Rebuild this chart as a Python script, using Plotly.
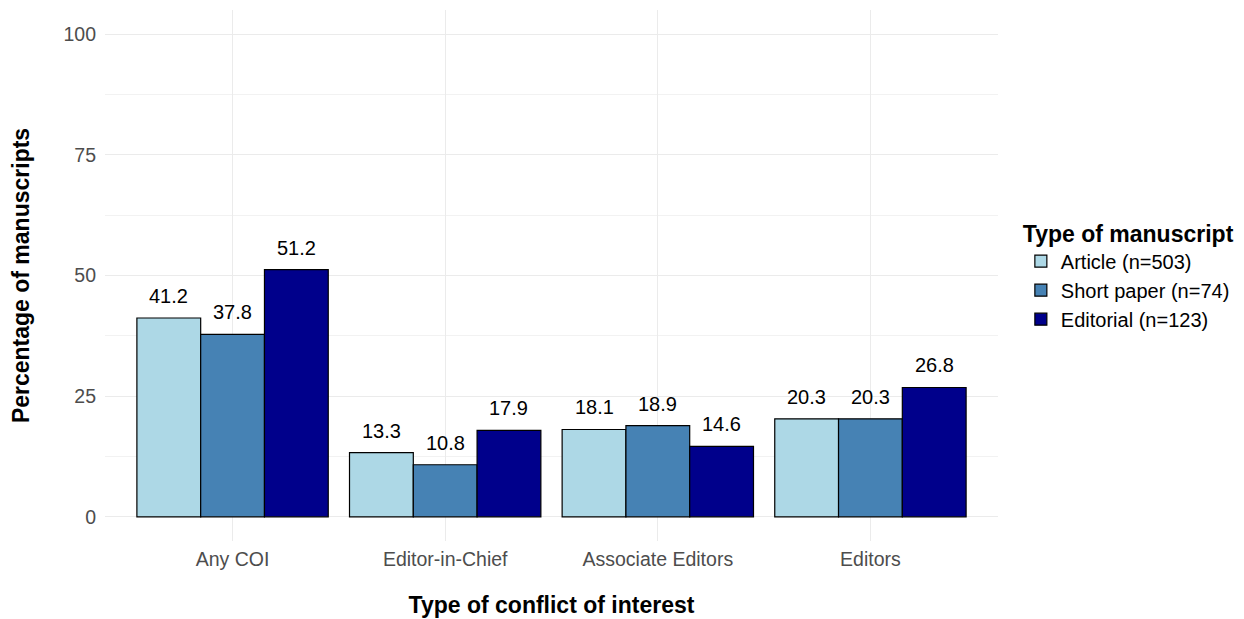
import plotly.graph_objects as go

categories = ["Any COI", "Editor-in-Chief", "Associate Editors", "Editors"]
series_names = ["Article (n=503)", "Short paper (n=74)", "Editorial (n=123)"]
article = [41.2, 13.3, 18.1, 20.3]
short_paper = [37.8, 10.8, 18.9, 20.3]
editorial = [51.2, 17.9, 14.6, 26.8]
y_ticks = [0, 25, 50, 75, 100]

series = [article, short_paper, editorial]
colors = ["#ADD8E6", "#4682B4", "#00008B"]
offsets = [-0.3, 0.0, 0.3]
FONT = "Liberation Sans, Arial, sans-serif"

fig = go.Figure()
idx = list(range(len(categories)))
for name, vals, col, off in zip(series_names, series, colors, offsets):
    xs = [i + off for i in idx]
    fig.add_trace(go.Bar(
        x=xs, y=vals, width=0.3, name=name,
        marker=dict(color=col, line=dict(color="black", width=1.2)),
    ))
    for x, v in zip(xs, vals):
        fig.add_annotation(x=x, y=v, text=f"{v:.1f}", showarrow=False,
                           yanchor="bottom", yshift=9,
                           font=dict(family=FONT, size=20, color="black"))

fig.update_layout(
    width=1236, height=611,
    margin=dict(l=97, r=246, t=2, b=78),
    plot_bgcolor="white", paper_bgcolor="white",
    font=dict(family=FONT, color="#4D4D4D"),
    barmode="overlay",
    legend=dict(
        title=dict(text="<b>Type of manuscript</b>", font=dict(size=23, color="black", family=FONT)),
        font=dict(size=20, color="black", family=FONT),
        x=1.0256, xanchor="left", y=0.62, yanchor="top",
        tracegroupgap=0,
    ),
    xaxis=dict(
        tickmode="array", tickvals=idx, ticktext=categories,
        range=[-0.6, len(categories) - 0.4],
        showgrid=True, gridcolor="#EBEBEB", gridwidth=1.2,
        zeroline=False, showline=False, ticks="",
        ticklabelstandoff=4,
        tickfont=dict(size=19.5, color="#4D4D4D"),
        title=dict(text="<b>Type of conflict of interest</b>", font=dict(size=23, color="black"), standoff=28),
    ),
    yaxis=dict(
        tickmode="array", tickvals=y_ticks,
        range=[-5, 105],
        showgrid=True, gridcolor="#EBEBEB", gridwidth=1.2,
        minor=dict(tickmode="array", tickvals=[12.5, 37.5, 62.5, 87.5], showgrid=True, gridcolor="#F2F2F2", gridwidth=0.8),
        zeroline=False, showline=False, ticks="",
        ticklabelstandoff=8,
        tickfont=dict(size=19.5, color="#4D4D4D"),
        title=dict(text="<b>Percentage of manuscripts</b>", font=dict(size=23, color="black"), standoff=28),
    ),
)

fig.write_html("out.html")
